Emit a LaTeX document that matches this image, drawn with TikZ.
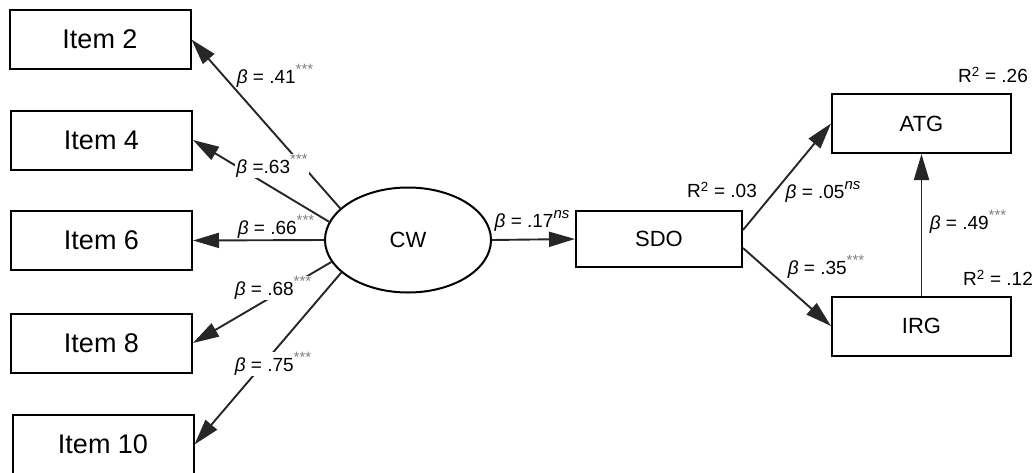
\documentclass[tikz,border=0pt]{standalone}
\usepackage{fontspec}
\setmainfont{Liberation Sans}
\usetikzlibrary{arrows.meta}
\usetikzlibrary{shapes.geometric}

\newcommand{\bt}{{\itshape β}}
\newcommand{\sig}{\raisebox{0.45em}{\fontsize{15}{15}\selectfont\color{gray}***}}
\newcommand{\nsig}{\raisebox{0.45em}{\fontsize{15}{15}\selectfont\itshape ns}}

\tikzset{
	itembox/.style={draw, line width=2pt, minimum width=181pt, minimum height=59pt, font=\fontsize{27}{32}\selectfont},
	varbox/.style={draw, line width=2pt, minimum width=179pt, minimum height=59pt, font=\fontsize{22}{26}\selectfont},
	coef/.style={fill=white, inner sep=1pt, font=\fontsize{19}{23}\selectfont},
	rsq/.style={inner sep=0pt, font=\fontsize{19}{23}\selectfont},
	link/.style={line width=1.9pt, draw=black!85, -{Triangle[length=26pt,width=15pt]}}
}

\begin{document}
\begin{tikzpicture}[x=1pt,y=-1pt]
	\useasboundingbox (0,0) rectangle (1036,472);

	% -- Items
	\node[itembox] (i2) at (100,39.5) {Item 2};
	\node[itembox] (i4) at (101.5,140) {Item 4};
	\node[itembox] (i6) at (101.5,240.5) {Item 6};
	\node[itembox] (i8) at (101.5,343) {Item 8};
	\node[itembox] (i10) at (103,444.5) {Item 10};

	% -- Latent and observed variables
	\node[draw, ellipse, line width=2pt, minimum width=166pt, minimum height=105pt, font=\fontsize{22}{26}\selectfont] (cw) at (408,240) {CW};
	\node[varbox, minimum width=166pt, minimum height=56pt] (sdo) at (659,239) {SDO};
	\node[varbox] (atg) at (921.5,123.5) {ATG};
	\node[varbox] (irg) at (921.5,326) {IRG};

	% -- Loadings
	\draw[link] (cw.155) -- (i2.east);
	\draw[link] (cw.167) -- (i4.east);
	\draw[link] (cw.west) -- (i6.east);
	\draw[link] (cw.196) -- (i8.east);
	\draw[link] (cw.206) -- (i10.east);

	\node[coef] (b2) at (275,76) {\bt{} = .41\sig};
	\node[coef] (b4) at (272,166) {\bt{} =.63\sig};
	\node[coef] (b6) at (276,227) {\bt{} = .66\sig};
	\node[coef] (b8) at (273,288) {\bt{} = .68\sig};
	\node[coef] (b10) at (273,364) {\bt{} = .75\sig};

	% -- Structural paths
	\draw[link] (cw.east) -- (sdo.west);
	\draw[link] ([yshift=9pt]sdo.east) -- (atg.west);
	\draw[link] ([yshift=-9pt]sdo.east) -- (irg.west);
	\draw[link] (irg.north) -- (atg.south);

	\node[coef, fill=none] (bsdo) at (532,221) {\bt{} = .17\nsig};
	\node[coef, fill=none] (batg) at (823,192) {\bt{} = .05\nsig};
	\node[coef, fill=none] (birg) at (826,267) {\bt{} = .35\sig};
	\node[coef, fill=none] (bia) at (968,222) {\bt{} = .49\sig};

	% -- Explained variance
	\node[rsq] (rsdo) at (722,190) {R\textsuperscript{2} = .03};
	\node[rsq] (ratg) at (993,75) {R\textsuperscript{2} = .26};
	\node[rsq] (rirg) at (998,278) {R\textsuperscript{2} = .12};
\end{tikzpicture}
\end{document}
